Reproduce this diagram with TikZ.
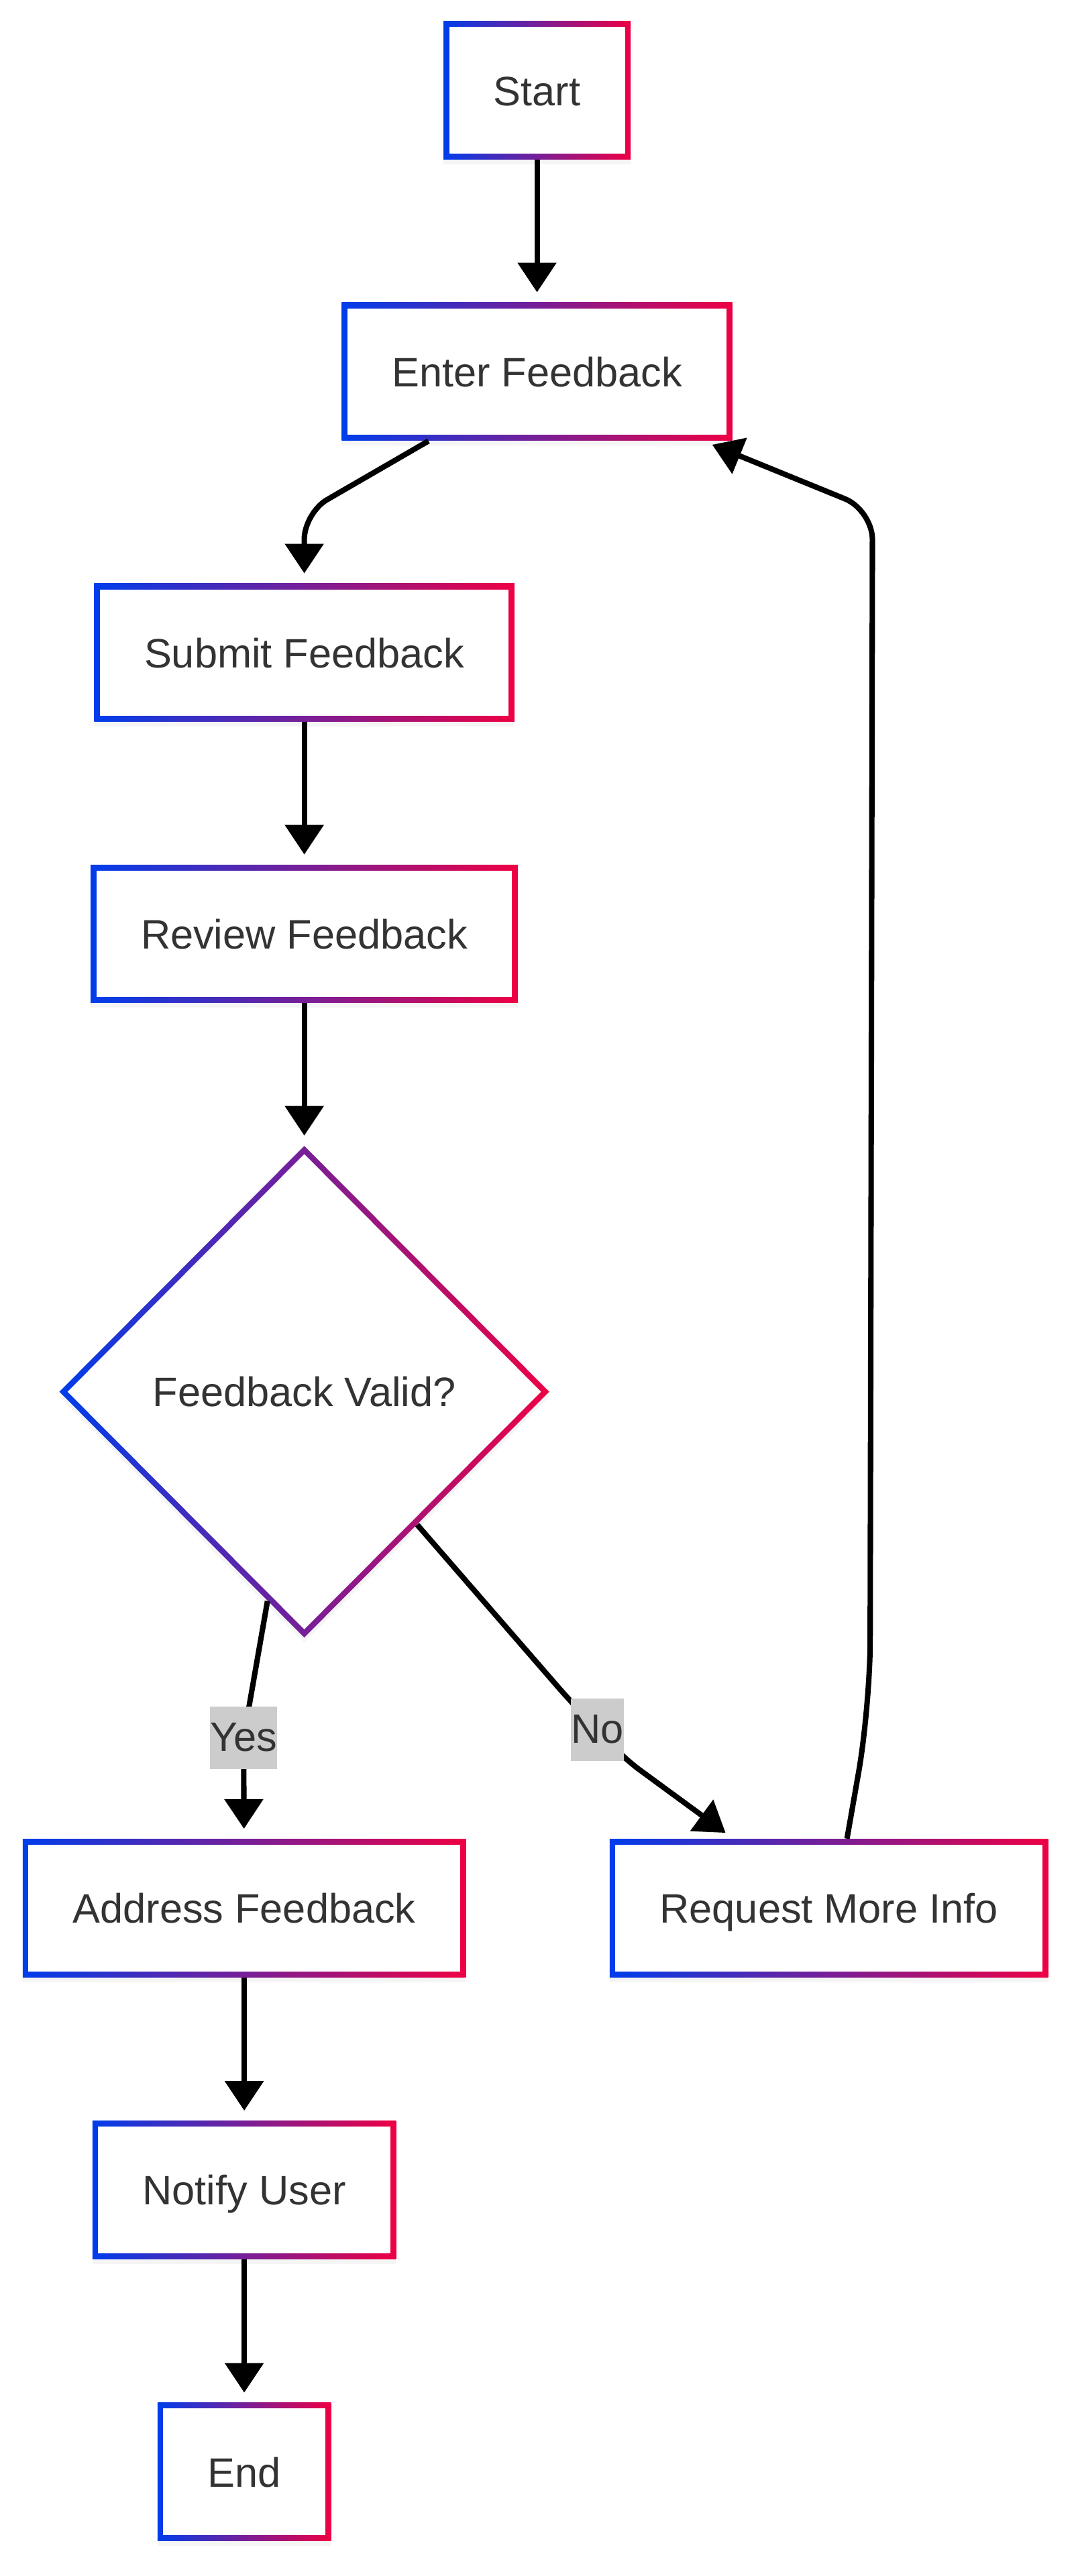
\documentclass[tikz,border=0pt]{standalone}
\usepackage{fontspec}
\setmainfont{Liberation Sans}
\usepackage{xcolor}
\usepackage{tikz}
\usetikzlibrary{shapes.geometric,arrows.meta,positioning,calc,shadows}
\definecolor{mmblue}{RGB}{0,61,235}
\definecolor{mmred}{RGB}{238,0,68}
\definecolor{mmtext}{RGB}{51,51,51}
\definecolor{mmlabel}{RGB}{204,204,204}

\begin{document}
\begin{tikzpicture}[
    x=1pt, y=1pt,
    node distance=86.5pt,
    every node/.style={font=\fontsize{25}{30}\selectfont, text=mmtext},
    stepbox/.style={rectangle, minimum height=84pt, inner xsep=30.5pt, inner ysep=0pt,
        text height=18.2pt, text depth=0pt,
        left color=mmblue, right color=mmred,
        drop shadow={opacity=0.08, shadow xshift=0pt, shadow yshift=-3pt},
        path picture={\fill[white] ([shift={(3.5pt,3.5pt)}]path picture bounding box.south west) rectangle ([shift={(-3.5pt,-3.5pt)}]path picture bounding box.north east);}},
    decision/.style={diamond, minimum width=298pt, minimum height=299pt, inner sep=0pt,
        left color=mmblue, right color=mmred,
        drop shadow={opacity=0.08, shadow xshift=0pt, shadow yshift=-3pt},
        path picture={\fill[white] ([yshift=-5pt]path picture bounding box.north) -- ([xshift=-5pt]path picture bounding box.east) -- ([yshift=5pt]path picture bounding box.south) -- ([xshift=5pt]path picture bounding box.west) -- cycle;}},
    edgelabel/.style={fill=mmlabel, inner sep=0pt, minimum height=38pt, sharp corners},
    flow/.style={draw=black, line width=3.3pt, -{Triangle[length=18pt,width=23pt]}, shorten >=6pt}
]
\useasboundingbox (0,0) rectangle (655,-1566.1);
\node[stepbox] (start) at (326.5,-55) {Start};
\node[stepbox, below=of start] (enter) {Enter Feedback};
\node[stepbox, below=of enter, xshift=-141.5pt] (submit) {Submit Feedback};
\node[stepbox, below=of submit] (review) {Review Feedback};
\node[decision, below=of review] (valid) {Feedback Valid?};
\node[stepbox, below=122pt of valid, xshift=-36.5pt] (address) {Address Feedback};
\node[stepbox, right=87pt of address] (request) {Request More Info};
\node[stepbox, below=87pt of address] (notify) {Notify User};
\node[stepbox, below=87pt of notify] (finish) {End};

\draw[flow] (start) -- (enter);
\draw[flow, rounded corners=16pt] ([xshift=-66pt]enter.south) -- ++(-75.5,-43.7) -- (submit);
\draw[flow] (submit) -- (review);
\draw[flow] (review) -- (valid);
\draw[flow] ($(valid.south)!0.15!(valid.west)$) -- ++(-14.5,-83) node[edgelabel] {Yes} -- (address);
\draw[flow, rounded corners=10pt] ($(valid.south)!0.46!(valid.east)$) -- ++(92,-106) -- node[edgelabel] {No} ++(35,-37) -- ([xshift=-58pt]request.north);
\draw[flow, rounded corners=40pt] ([xshift=11pt]request.north) -- ++(14,80) [rounded corners=18pt] -- ([shift={(85pt,-42pt)}]enter.south east) -- ([xshift=-18pt]enter.south east);
\draw[flow] (address) -- (notify);
\draw[flow] (notify) -- (finish);
\end{tikzpicture}
\end{document}
